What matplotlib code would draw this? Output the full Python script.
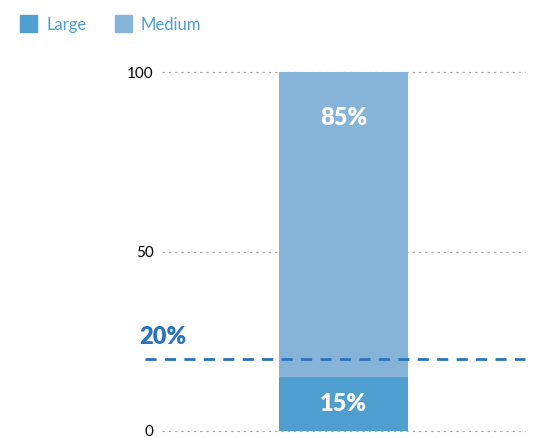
import matplotlib.pyplot as plt
from matplotlib.patches import Rectangle

categories = [""]
large = [15]
medium = [85]
series_names = ["Large", "Medium"]
target = 20
yticks = [0, 50, 100]

c_large = "#4e9fcf"
c_medium = "#86b4d9"
c_target = "#2a74bb"

plt.rcParams['font.family'] = ['Lato', 'DejaVu Sans']

fig = plt.figure(figsize=(5.48, 4.38), dpi=100)
ax = fig.add_axes([162/548, 1-431/438, (525-162)/548, (431-72)/438])

x = range(len(categories))
ax.bar(x, large, width=0.355, color=c_large, zorder=2)
ax.bar(x, medium, width=0.355, bottom=large, color=c_medium, zorder=2)

for i in x:
    ax.text(i, large[i]/2, "%d%%" % large[i], ha="center", va="center",
            color="white", fontsize=17, fontweight="heavy", zorder=3)
    ax.annotate("%d%%" % medium[i], (i, large[i] + medium[i]), xytext=(0, -33),
                textcoords="offset points", ha="center", va="center",
                color="white", fontsize=17, fontweight="heavy", zorder=3)

ax.axhline(target, xmin=-0.047, xmax=1, color=c_target, lw=2,
           dashes=(4, 3), clip_on=False, zorder=4)
ax.text(-0.062, target + 3, "%d%%" % target, transform=ax.get_yaxis_transform(),
        ha="left", va="bottom", color=c_target, fontsize=17, fontweight="heavy")

ax.set_xlim(-0.5, 0.5)
ax.set_ylim(0, 100)
ax.set_yticks(yticks)
ax.set_xticks([])
ax.tick_params(axis="y", length=0, labelsize=11, pad=6)
ax.grid(axis="y", color="#aaaaaa", linestyle=(0, (2, 3)), lw=0.9, zorder=0)
for gl in ax.get_ygridlines():
    gl.set_clip_on(False)
for s in ax.spines.values():
    s.set_visible(False)

# legend
for name, col, xpos in zip(series_names, [c_large, c_medium], [20, 115]):
    fig.patches.append(Rectangle((xpos/548, 1-32/438), 17/548, 17/438,
                                 color=col, transform=fig.transFigure))
    fig.text((xpos+26)/548, 1-25/438, name, color=c_large, fontsize=12,
             va="center", ha="left")

fig.savefig("out.png", dpi=100)
